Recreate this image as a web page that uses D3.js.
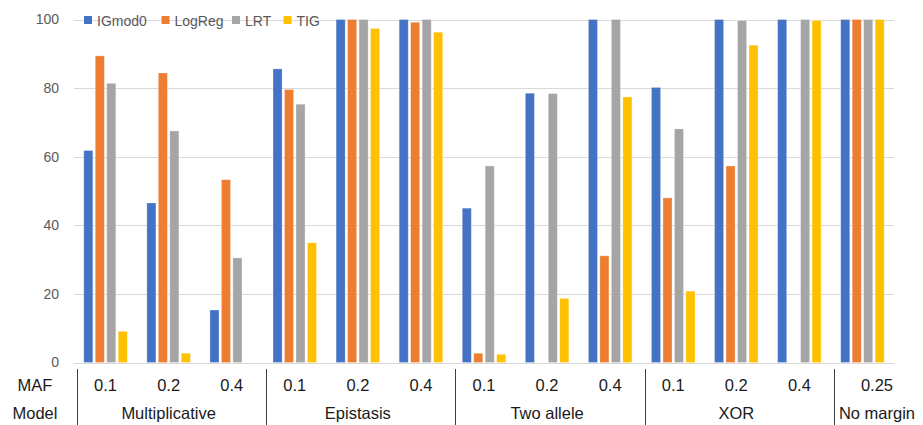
<!DOCTYPE html>
<html>
<head>
<meta charset="utf-8">
<script src="https://cdn.jsdelivr.net/npm/d3@7"></script>
<style>
  html, body { margin: 0; padding: 0; background: #fff; }
  svg { display: block; font-family: "Liberation Sans", Arial, sans-serif; }
</style>
</head>
<body>
<svg id="chart" width="923" height="425"></svg>
<script>
// Detection power (%) per method, for each model / MAF setting
const models = ["Multiplicative", "Epistasis", "Two allele", "XOR", "No margin"];
const mafs = [
  ["0.1", "0.2", "0.4"],
  ["0.1", "0.2", "0.4"],
  ["0.1", "0.2", "0.4"],
  ["0.1", "0.2", "0.4"],
  ["0.25"]
];
const seriesNames = ["IGmod0", "LogReg", "LRT", "TIG"];
const seriesColors = ["#4472C4", "#ED7D31", "#A5A5A5", "#FFC000"];

const IGmod0 = [61.8, 46.5, 15.3, 85.6, 100, 100, 45, 78.5, 100, 80.2, 100, 100, 100];
const LogReg = [89.4, 84.4, 53.3, 79.6, 100, 99.2, 2.7, 0, 31.1, 48, 57.3, 0, 100];
const LRT    = [81.4, 67.5, 30.5, 75.3, 100, 100, 57.3, 78.4, 100, 68.1, 99.7, 100, 100];
const TIG    = [9.1, 2.7, 0, 34.9, 97.4, 96.3, 2.4, 18.7, 77.4, 20.8, 92.5, 99.7, 100];

const yTicks = [0, 20, 40, 60, 80, 100];

// Flatten model/MAF pairs into category slots
const categories = [];
models.forEach((m, gi) => mafs[gi].forEach((maf, k) => {
  categories.push({ id: m + "|" + maf, model: m, maf: maf, group: gi, first: k === 0 });
}));
const seriesValues = [IGmod0, LogReg, LRT, TIG];

const W = 923, H = 425;
const plot = { left: 74, right: 894, top: 19.5, bottom: 362.5 };

const svg = d3.select("#chart");

const x0 = d3.scaleBand()
  .domain(categories.map(c => c.id))
  .range([plot.left, plot.right])
  .padding(0);

const groupWidth = 43.5;
const x1 = d3.scaleBand()
  .domain(seriesNames)
  .range([0, groupWidth])
  .paddingInner(0.21)
  .paddingOuter(0);

const y = d3.scaleLinear().domain([0, 100]).range([plot.bottom, plot.top]);

// Horizontal gridlines
svg.append("g")
  .selectAll("line")
  .data(yTicks)
  .join("line")
  .attr("x1", plot.left).attr("x2", plot.right)
  .attr("y1", d => Math.round(y(d)) + 0.5).attr("y2", d => Math.round(y(d)) + 0.5)
  .attr("stroke", "#d9d9d9")
  .attr("stroke-width", 1.2);

// Value axis labels
const yAxis = d3.axisLeft(y).tickValues(yTicks).tickSize(0).tickPadding(15);
const gy = svg.append("g").attr("transform", `translate(${plot.left},0)`).call(yAxis);
gy.select(".domain").remove();
gy.selectAll("text")
  .attr("fill", "#595959")
  .style("font-size", "14px")
  .style("font-family", "'Liberation Sans', Arial, sans-serif");

// Bars
const groups = svg.append("g")
  .selectAll("g")
  .data(categories)
  .join("g")
  .attr("transform", c => `translate(${x0(c.id) + (x0.bandwidth() - groupWidth) / 2},0)`);

groups.selectAll("rect")
  .data((c, i) => seriesNames.map((s, si) => ({ s, si, v: seriesValues[si][i] })))
  .join("rect")
  .filter(d => d.v > 0)
  .attr("x", d => x1(d.s))
  .attr("width", x1.bandwidth())
  .attr("y", d => y(d.v))
  .attr("height", d => y(0) - y(d.v))
  .attr("fill", d => seriesColors[d.si])
  .attr("stroke", "#ffffff")
  .attr("stroke-opacity", 0.35)
  .attr("stroke-width", 0.8);

// Legend
const legendX = [84, 161.5, 232, 283.5];
const legend = svg.append("g")
  .selectAll("g")
  .data(seriesNames)
  .join("g")
  .attr("transform", (d, i) => `translate(${legendX[i]},16)`);
legend.append("rect")
  .attr("width", 8).attr("height", 8)
  .attr("fill", (d, i) => seriesColors[i]);
legend.append("text")
  .attr("x", 13).attr("y", 9.5)
  .attr("fill", "#595959")
  .style("font-size", "14px")
  .text(d => d);

// Category axis: MAF row, model row and group separators
const boundaryLeft = c => x0(c.id);
const slotRight = (i) => i + 1 < categories.length ? x0(categories[i + 1].id) : W;
const axisFont = "16.5px";

svg.append("text")
  .attr("x", 35).attr("y", 385)
  .attr("text-anchor", "middle").attr("dominant-baseline", "central")
  .attr("fill", "#1a1a1a").style("font-size", axisFont)
  .text("MAF");
svg.append("text")
  .attr("x", 35).attr("y", 413)
  .attr("text-anchor", "middle").attr("dominant-baseline", "central")
  .attr("fill", "#1a1a1a").style("font-size", axisFont)
  .text("Model");

svg.append("g")
  .selectAll("text")
  .data(categories)
  .join("text")
  .attr("x", (c, i) => i === categories.length - 1
      ? (boundaryLeft(c) + slotRight(i)) / 2
      : x0(c.id) + x0.bandwidth() / 2)
  .attr("y", 385)
  .attr("text-anchor", "middle").attr("dominant-baseline", "central")
  .attr("fill", "#1a1a1a").style("font-size", axisFont)
  .text(c => c.maf);

const groupSpans = models.map((m, gi) => {
  const idx = categories.map((c, i) => i).filter(i => categories[i].group === gi);
  const first = idx[0], last = idx[idx.length - 1];
  return { model: m, left: boundaryLeft(categories[first]), right: slotRight(last) };
});

svg.append("g")
  .selectAll("text")
  .data(groupSpans)
  .join("text")
  .attr("x", g => (g.left + g.right) / 2)
  .attr("y", 413)
  .attr("text-anchor", "middle").attr("dominant-baseline", "central")
  .attr("fill", "#1a1a1a").style("font-size", axisFont)
  .text(g => g.model);

svg.append("g")
  .selectAll("line")
  .data(groupSpans)
  .join("line")
  .attr("x1", (g, i) => Math.round(g.left + (i === 0 ? 2.5 : 3)) + 0.5)
  .attr("x2", (g, i) => Math.round(g.left + (i === 0 ? 2.5 : 3)) + 0.5)
  .attr("y1", 369).attr("y2", H)
  .attr("stroke", "#404040")
  .attr("stroke-width", 1);
</script>
</body>
</html>
